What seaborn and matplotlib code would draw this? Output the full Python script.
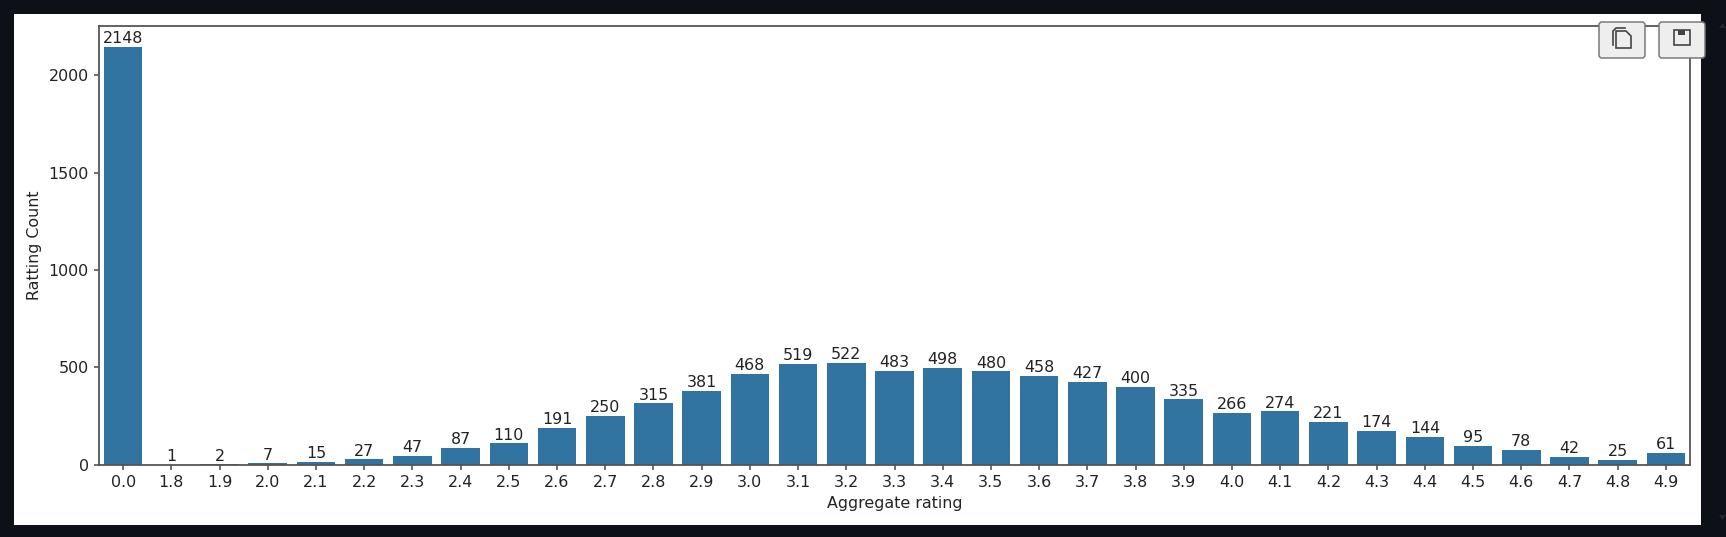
# plot.py
import matplotlib
matplotlib.use("Agg")
import matplotlib.pyplot as plt
from matplotlib.patches import FancyBboxPatch, Polygon, Rectangle
import pandas as pd
import seaborn as sns

ratings = ["0.0", "1.8", "1.9", "2.0", "2.1", "2.2", "2.3", "2.4", "2.5", "2.6", "2.7",
           "2.8", "2.9", "3.0", "3.1", "3.2", "3.3", "3.4", "3.5", "3.6", "3.7", "3.8",
           "3.9", "4.0", "4.1", "4.2", "4.3", "4.4", "4.5", "4.6", "4.7", "4.8", "4.9"]
counts = [2148, 1, 2, 7, 15, 27, 47, 87, 110, 191, 250,
          315, 381, 468, 519, 522, 483, 498, 480, 458, 427, 400,
          335, 266, 274, 221, 174, 144, 95, 78, 42, 25, 61]

W, H = 1726, 537
DPI = 108
TEXT = "#222222"

plt.rcParams["font.size"] = 10.6
plt.rcParams["text.color"] = TEXT
plt.rcParams["axes.labelcolor"] = TEXT
plt.rcParams["xtick.labelcolor"] = TEXT
plt.rcParams["ytick.labelcolor"] = TEXT

df = pd.DataFrame({"Aggregate rating": ratings, "Ratting Count": counts})

fig = plt.figure(figsize=(W / DPI, H / DPI), dpi=DPI, facecolor="#0d1117")

# white notebook output area behind the chart
fig.patches.append(Rectangle((14 / W, 1 - 525 / H), (1701 - 14) / W, (525 - 14) / H,
                             transform=fig.transFigure, facecolor="white", edgecolor="none", zorder=-1))

ax = fig.add_axes([99 / W, 1 - 464.7 / H, (1690 - 99) / W, (464.7 - 25.7) / H])
sns.barplot(data=df, x="Aggregate rating", y="Ratting Count", color="#1f77b4", linewidth=0, ax=ax)
for container in ax.containers:
    ax.bar_label(container, padding=0.5)
for side in ax.spines.values():
    side.set_linewidth(1.2)
    side.set_edgecolor("#555555")
ax.tick_params(color="#444444", width=1.0)

# toolbar buttons sitting on top of the output, in pixel coordinates
over = fig.add_axes([0, 0, 1, 1], zorder=5)
over.set_xlim(0, W)
over.set_ylim(H, 0)
over.axis("off")

for x0 in (1599, 1659):
    over.add_patch(FancyBboxPatch((x0, 22), 46, 36, boxstyle="round,pad=0,rounding_size=3",
                                  facecolor="#eeeeee", edgecolor="#777777", linewidth=1.0))

icon = "#444444"
# copy icon
over.add_patch(Polygon([(1616, 31), (1626, 31), (1631, 36), (1631, 48), (1616, 48)],
                       closed=True, fill=False, edgecolor=icon, linewidth=1.1))
over.plot([1625, 1616, 1613, 1613], [28, 28, 31, 45], color=icon, linewidth=1.1)
# save icon
over.add_patch(Rectangle((1674, 30), 16, 15, fill=False, edgecolor=icon, linewidth=1.1))
over.add_patch(Rectangle((1678, 30), 7, 5, facecolor=icon, edgecolor="none"))
# scrollbar arrows at the right edge
over.add_patch(Polygon([(1719, 28), (1726, 28), (1722.5, 23)], closed=True, facecolor="#22262c", edgecolor="none"))
over.add_patch(Polygon([(1719, 515), (1726, 515), (1722.5, 520)], closed=True, facecolor="#22262c", edgecolor="none"))

fig.savefig("out.png", dpi=DPI, facecolor=fig.get_facecolor())
